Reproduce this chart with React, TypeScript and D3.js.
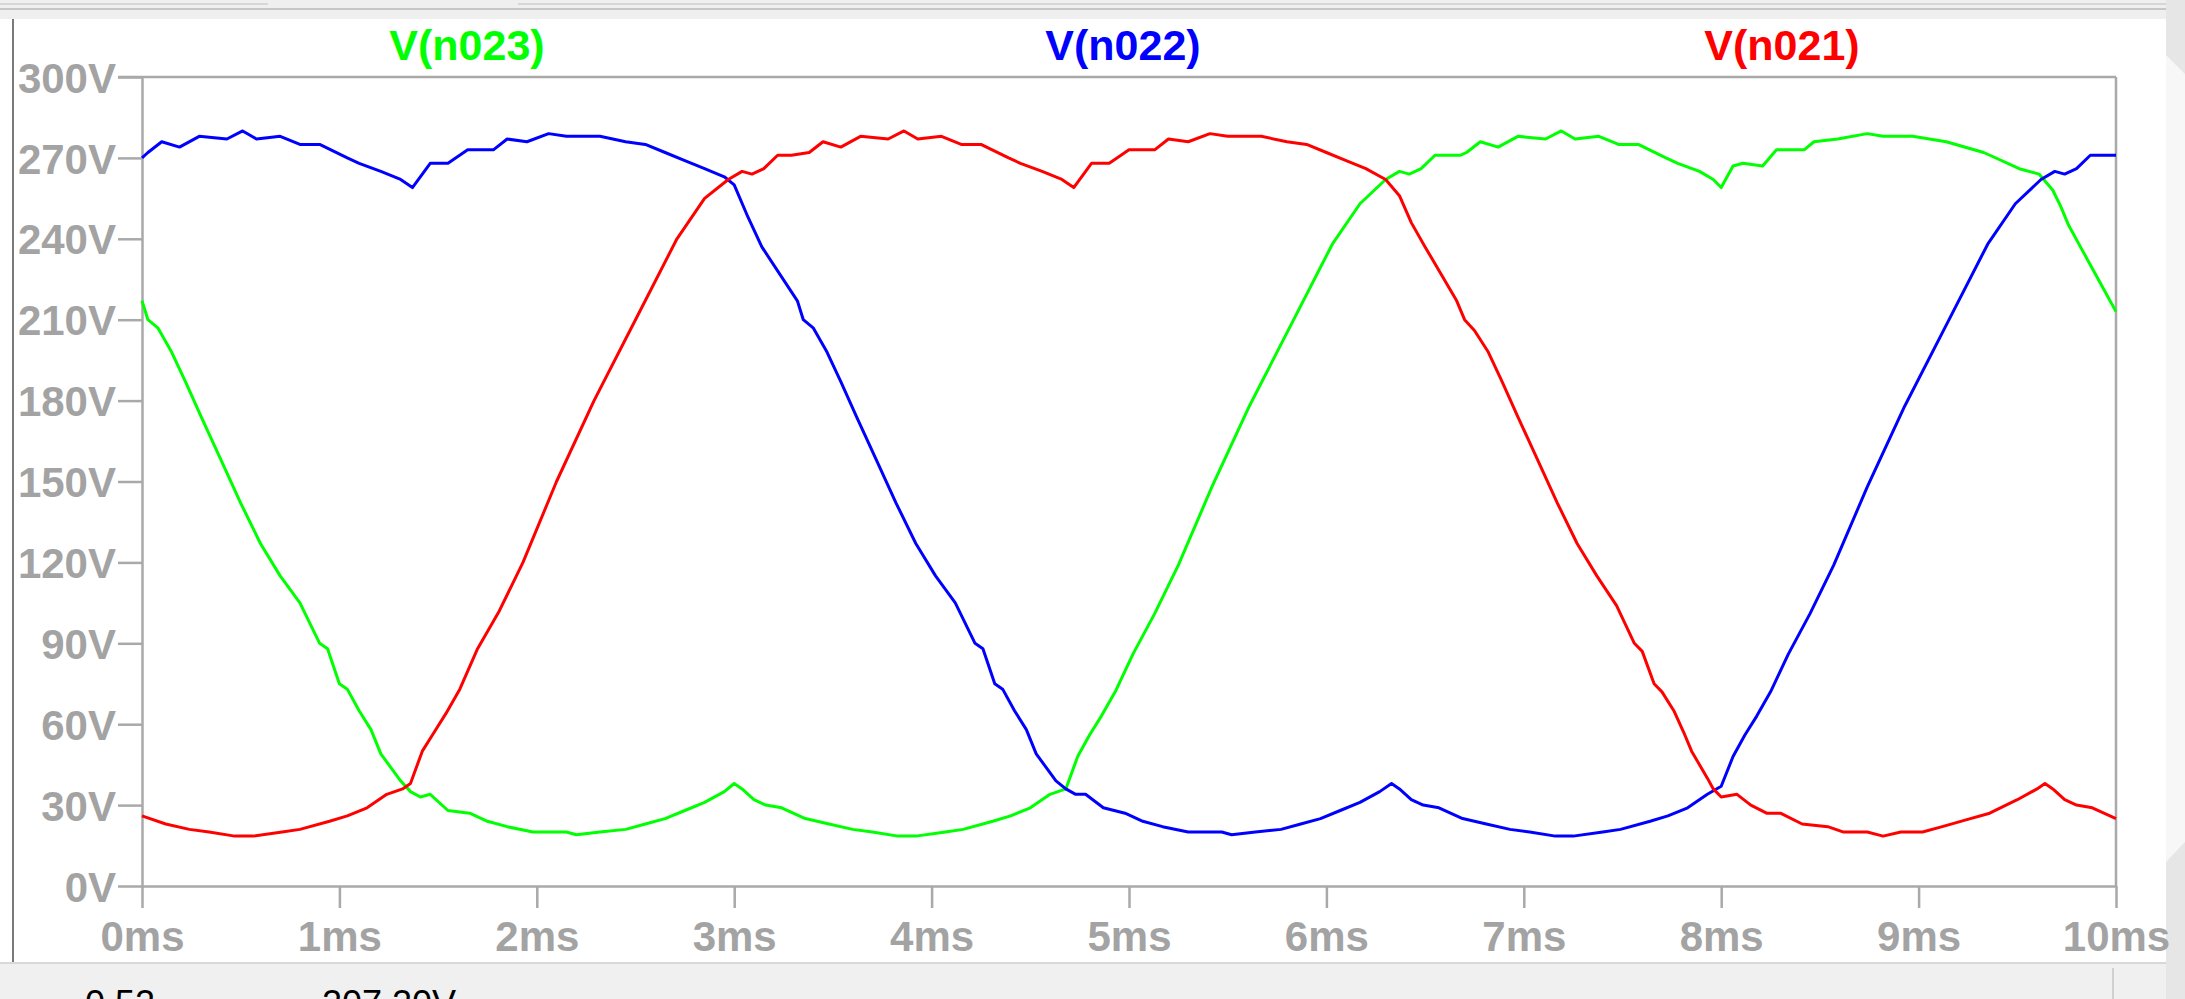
import React, { useRef, useEffect } from 'react';
import { select, scaleLinear, line, axisLeft, axisBottom } from 'd3';

// sizes of the captured window
const width = 2185;
const height = 999;
const plot = { left: 142, right: 2116, top: 77, bottom: 886 };

const timeTicks = [0, 1, 2, 3, 4, 5, 6, 7, 8, 9, 10];
const voltTicks = [0, 30, 60, 90, 120, 150, 180, 210, 240, 270, 300];
const traceNames = ['V(n023)', 'V(n022)', 'V(n021)'];
const statusTexts = ['0.52', '207.20V'];

// V(n023), green
const n023Time = [
	0, 0.03, 0.08, 0.15, 0.22, 0.3, 0.4, 0.5, 0.6, 0.7, 0.8, 0.9, 0.94, 1.0, 1.04, 1.1, 1.16, 1.21, 1.26,
	1.31, 1.36, 1.41, 1.46, 1.55, 1.66, 1.75, 1.85, 1.98, 2.15, 2.2, 2.32, 2.45, 2.55, 2.65, 2.75, 2.85,
	2.95, 3.0, 3.04, 3.1, 3.16, 3.24, 3.36, 3.48, 3.6, 3.7, 3.83, 3.92, 4.07, 4.16, 4.31, 4.4, 4.5, 4.6,
	4.68, 4.74, 4.8, 4.86, 4.93, 5.02, 5.13, 5.25, 5.42, 5.61, 5.82, 6.03, 6.17, 6.3, 6.37, 6.42, 6.48,
	6.55, 6.62, 6.68, 6.71, 6.78, 6.87, 6.97, 7.11, 7.19, 7.26, 7.38, 7.48, 7.58, 7.72, 7.78, 7.89, 7.96,
	8.0, 8.06, 8.11, 8.21, 8.28, 8.42, 8.47, 8.59, 8.74, 8.82, 8.97, 9.14, 9.33, 9.51, 9.61, 9.68, 9.72,
	9.76, 9.82, 9.88, 9.94, 10,
];
const n023Volts = [
	217, 210, 207, 198, 187, 174, 158, 142, 127, 115, 105, 90, 88, 75, 73, 65, 58, 49, 44, 39, 35, 33, 34,
	28, 27, 24, 22, 20, 20, 19, 20, 21, 23, 25, 28, 31, 35, 38, 36, 32, 30, 29, 25, 23, 21, 20, 18.5,
	18.5, 20, 21, 24, 26, 29, 34, 36, 48, 56, 63, 72, 86, 101, 119, 148, 178, 208, 238, 253, 262, 265,
	264, 266, 271, 271, 271, 272, 276, 274, 278, 277, 280, 277, 278, 275, 275, 270, 268, 265, 262, 259,
	267, 268, 267, 273, 273, 276, 277, 279, 278, 278, 276, 272, 266, 264, 258, 252, 245, 237, 229, 221,
	213,
];

// V(n022), blue
const n022Time = [
	0, 0.03, 0.1, 0.19, 0.29, 0.43, 0.51, 0.58, 0.7, 0.8, 0.9, 1.04, 1.1, 1.21, 1.31, 1.37, 1.46, 1.55,
	1.65, 1.78, 1.85, 1.95, 2.06, 2.15, 2.32, 2.45, 2.55, 2.65, 2.75, 2.85, 2.95, 3.0, 3.07, 3.14, 3.32,
	3.35, 3.4, 3.47, 3.54, 3.62, 3.72, 3.82, 3.92, 4.02, 4.12, 4.22, 4.26, 4.32, 4.36, 4.42, 4.48, 4.53,
	4.58, 4.63, 4.68, 4.73, 4.78, 4.87, 4.98, 5.07, 5.17, 5.3, 5.47, 5.52, 5.64, 5.77, 5.87, 5.97, 6.07,
	6.17, 6.27, 6.33, 6.37, 6.43, 6.49, 6.57, 6.69, 6.81, 6.93, 7.03, 7.16, 7.25, 7.4, 7.49, 7.64, 7.73,
	7.83, 7.93, 8.0, 8.06, 8.12, 8.18, 8.25, 8.34, 8.45, 8.57, 8.74, 8.93, 9.14, 9.35, 9.49, 9.62, 9.69,
	9.74, 9.8, 9.87, 9.94, 10,
];
const n022Volts = [
	270, 272, 276, 274, 278, 277, 280, 277, 278, 275, 275, 270, 268, 265, 262, 259, 268, 268, 273, 273,
	277, 276, 279, 278, 278, 276, 275, 272, 269, 266, 263, 260, 248, 237, 217, 210, 207, 198, 187, 174,
	158, 142, 127, 115, 105, 90, 88, 75, 73, 65, 58, 49, 44, 39, 36, 34, 34, 29, 27, 24, 22, 20, 20, 19,
	20, 21, 23, 25, 28, 31, 35, 38, 36, 32, 30, 29, 25, 23, 21, 20, 18.5, 18.5, 20, 21, 24, 26, 29, 34,
	37, 48, 56, 63, 72, 86, 101, 119, 148, 178, 208, 238, 253, 262, 265, 264, 266, 271, 271, 271,
];

// V(n021), red
const n021Time = [
	0, 0.12, 0.24, 0.34, 0.47, 0.56, 0.71, 0.8, 0.95, 1.04, 1.14, 1.24, 1.32, 1.36, 1.42, 1.48, 1.54,
	1.61, 1.7, 1.81, 1.93, 2.1, 2.29, 2.5, 2.71, 2.85, 2.97, 3.04, 3.09, 3.15, 3.22, 3.29, 3.38, 3.45,
	3.54, 3.64, 3.78, 3.86, 3.93, 4.05, 4.15, 4.25, 4.39, 4.45, 4.56, 4.66, 4.72, 4.81, 4.9, 5.0, 5.13,
	5.2, 5.3, 5.41, 5.5, 5.67, 5.8, 5.9, 6.0, 6.1, 6.2, 6.3, 6.37, 6.43, 6.5, 6.66, 6.7, 6.75, 6.82, 6.89,
	6.97, 7.07, 7.17, 7.27, 7.37, 7.47, 7.56, 7.6, 7.66, 7.7, 7.76, 7.81, 7.85, 7.89, 7.93, 7.96, 8.0,
	8.08, 8.15, 8.23, 8.3, 8.41, 8.54, 8.62, 8.74, 8.82, 8.91, 9.02, 9.12, 9.24, 9.36, 9.5, 9.6, 9.64,
	9.68, 9.74, 9.8, 9.88, 10,
];
const n021Volts = [
	26, 23, 21, 20, 18.5, 18.5, 20, 21, 24, 26, 29, 34, 36, 38, 50, 57, 64, 73, 88, 102, 120, 150, 180,
	210, 240, 255, 262, 265, 264, 266, 271, 271, 272, 276, 274, 278, 277, 280, 277, 278, 275, 275, 270,
	268, 265, 262, 259, 268, 268, 273, 273, 277, 276, 279, 278, 278, 276, 275, 272, 269, 266, 262, 256,
	246, 237, 217, 210, 206, 198, 187, 174, 158, 142, 127, 115, 104, 90, 87, 75, 72, 65, 57, 50, 45, 40,
	36, 33, 34, 30, 27, 27, 23, 22, 20, 20, 18.5, 20, 20, 22, 24.5, 27, 32, 36, 38, 36, 32, 30, 29, 25,
];

const traces = [
	{ name: traceNames[0], time: n023Time, volts: n023Volts, color: '#00ff00', labelX: 467 },
	{ name: traceNames[1], time: n022Time, volts: n022Volts, color: '#0000ff', labelX: 1123 },
	{ name: traceNames[2], time: n021Time, volts: n021Volts, color: '#ff0000', labelX: 1782 },
];

const font = '"Liberation Sans", Arial, sans-serif';
const axisGray = '#a9a9a9';
const labelGray = '#a3a3a3';

function App() {
	const svgRef = useRef<SVGSVGElement>(null);

	useEffect(() => {
		document.body.style.margin = '0';
		const svg = select(svgRef.current);

		const xScale = scaleLinear().domain([0, 10]).range([plot.left, plot.right]);
		const yScale = scaleLinear().domain([0, 300]).range([plot.bottom, plot.top]);

		// y axis
		const yAxis = axisLeft(yScale)
			.tickValues(voltTicks)
			.tickFormat((d) => `${d}V`)
			.tickSize(24)
			.tickSizeOuter(0)
			.tickPadding(2);
		const gy = svg
			.select('.yAxis')
			.attr('transform', `translate(${plot.left},0)`)
			.call(yAxis as any);
		gy.selectAll('path, line').attr('stroke', axisGray).attr('stroke-width', 2.5);
		gy.selectAll('text')
			.attr('dy', '0.36em')
			.attr('fill', labelGray)
			.style('font-family', font)
			.style('font-weight', 'bold')
			.style('font-size', '42px');

		// x axis
		const xAxis = axisBottom(xScale)
			.tickValues(timeTicks)
			.tickFormat((d) => `${d}ms`)
			.tickSize(22)
			.tickSizeOuter(0)
			.tickPadding(13);
		const gx = svg
			.select('.xAxis')
			.attr('transform', `translate(0,${plot.bottom})`)
			.call(xAxis as any);
		gx.selectAll('path, line').attr('stroke', axisGray).attr('stroke-width', 2.5);
		gx.selectAll('text')
			.attr('fill', labelGray)
			.style('font-family', font)
			.style('font-weight', 'bold')
			.style('font-size', '42px');

		// frame top + right
		svg
			.select('.frame')
			.selectAll('line')
			.data([
				[plot.left - 24, plot.top, plot.right, plot.top],
				[plot.right, plot.top, plot.right, plot.bottom],
			])
			.join('line')
			.attr('x1', (d) => d[0])
			.attr('y1', (d) => d[1])
			.attr('x2', (d) => d[2])
			.attr('y2', (d) => d[3])
			.attr('stroke', axisGray)
			.attr('stroke-width', 2.5);

		// traces
		const path = line<[number, number]>()
			.x((d) => xScale(d[0]))
			.y((d) => yScale(d[1]));
		svg
			.select('.traces')
			.selectAll('path')
			.data(traces)
			.join('path')
			.attr('d', (t) => path(t.time.map((tm, i) => [tm, t.volts[i]] as [number, number])))
			.attr('fill', 'none')
			.attr('stroke', (t) => t.color)
			.attr('stroke-width', 3)
			.attr('stroke-linejoin', 'round');

		// trace names above the plot
		svg
			.select('.names')
			.selectAll('text')
			.data(traces)
			.join('text')
			.attr('x', (t) => t.labelX)
			.attr('y', 60)
			.attr('text-anchor', 'middle')
			.attr('fill', (t) => t.color)
			.style('font-family', font)
			.style('font-weight', 'bold')
			.style('font-size', '43px')
			.text((t) => t.name);
	}, []);

	return (
		<svg ref={svgRef} width={width} height={height} style={{ display: 'block', background: '#fff' }}>
			{/* window chrome */}
			<rect x={0} y={0} width={2166} height={19} fill="#efefef" />
			<line x1={0} y1={4} x2={268} y2={4} stroke="#d6d6d6" strokeWidth={2} />
			<line x1={518} y1={4} x2={2166} y2={4} stroke="#d6d6d6" strokeWidth={2} />
			<line x1={0} y1={9} x2={2166} y2={9} stroke="#c6c6c6" strokeWidth={2} />
			<line x1={13} y1={19} x2={13} y2={963} stroke="#7a7a7a" strokeWidth={2} />
			<rect x={0} y={963} width={2166} height={36} fill="#f0f0f0" />
			<line x1={0} y1={963} x2={2166} y2={963} stroke="#d8d8d8" strokeWidth={2} />
			<line x1={2113} y1={968} x2={2113} y2={999} stroke="#d0d0d0" strokeWidth={2} />
			<rect x={2166} y={0} width={19} height={999} fill="#f7f7f7" />
			<polygon points="2166,0 2185,0 2185,74 2166,55" fill="#e6e6e6" />
			<polygon points="2166,862 2185,842 2185,999 2166,999" fill="#e6e6e6" />
			<text x={85} y={1016} fill="#000" style={{ fontFamily: font, fontSize: '36px' }}>
				{statusTexts[0]}
			</text>
			<text x={322} y={1016} fill="#000" style={{ fontFamily: font, fontSize: '36px' }}>
				{statusTexts[1]}
			</text>
			<g className="frame"></g>
			<g className="yAxis"></g>
			<g className="xAxis"></g>
			<g className="traces"></g>
			<g className="names"></g>
		</svg>
	);
}

export default App;
